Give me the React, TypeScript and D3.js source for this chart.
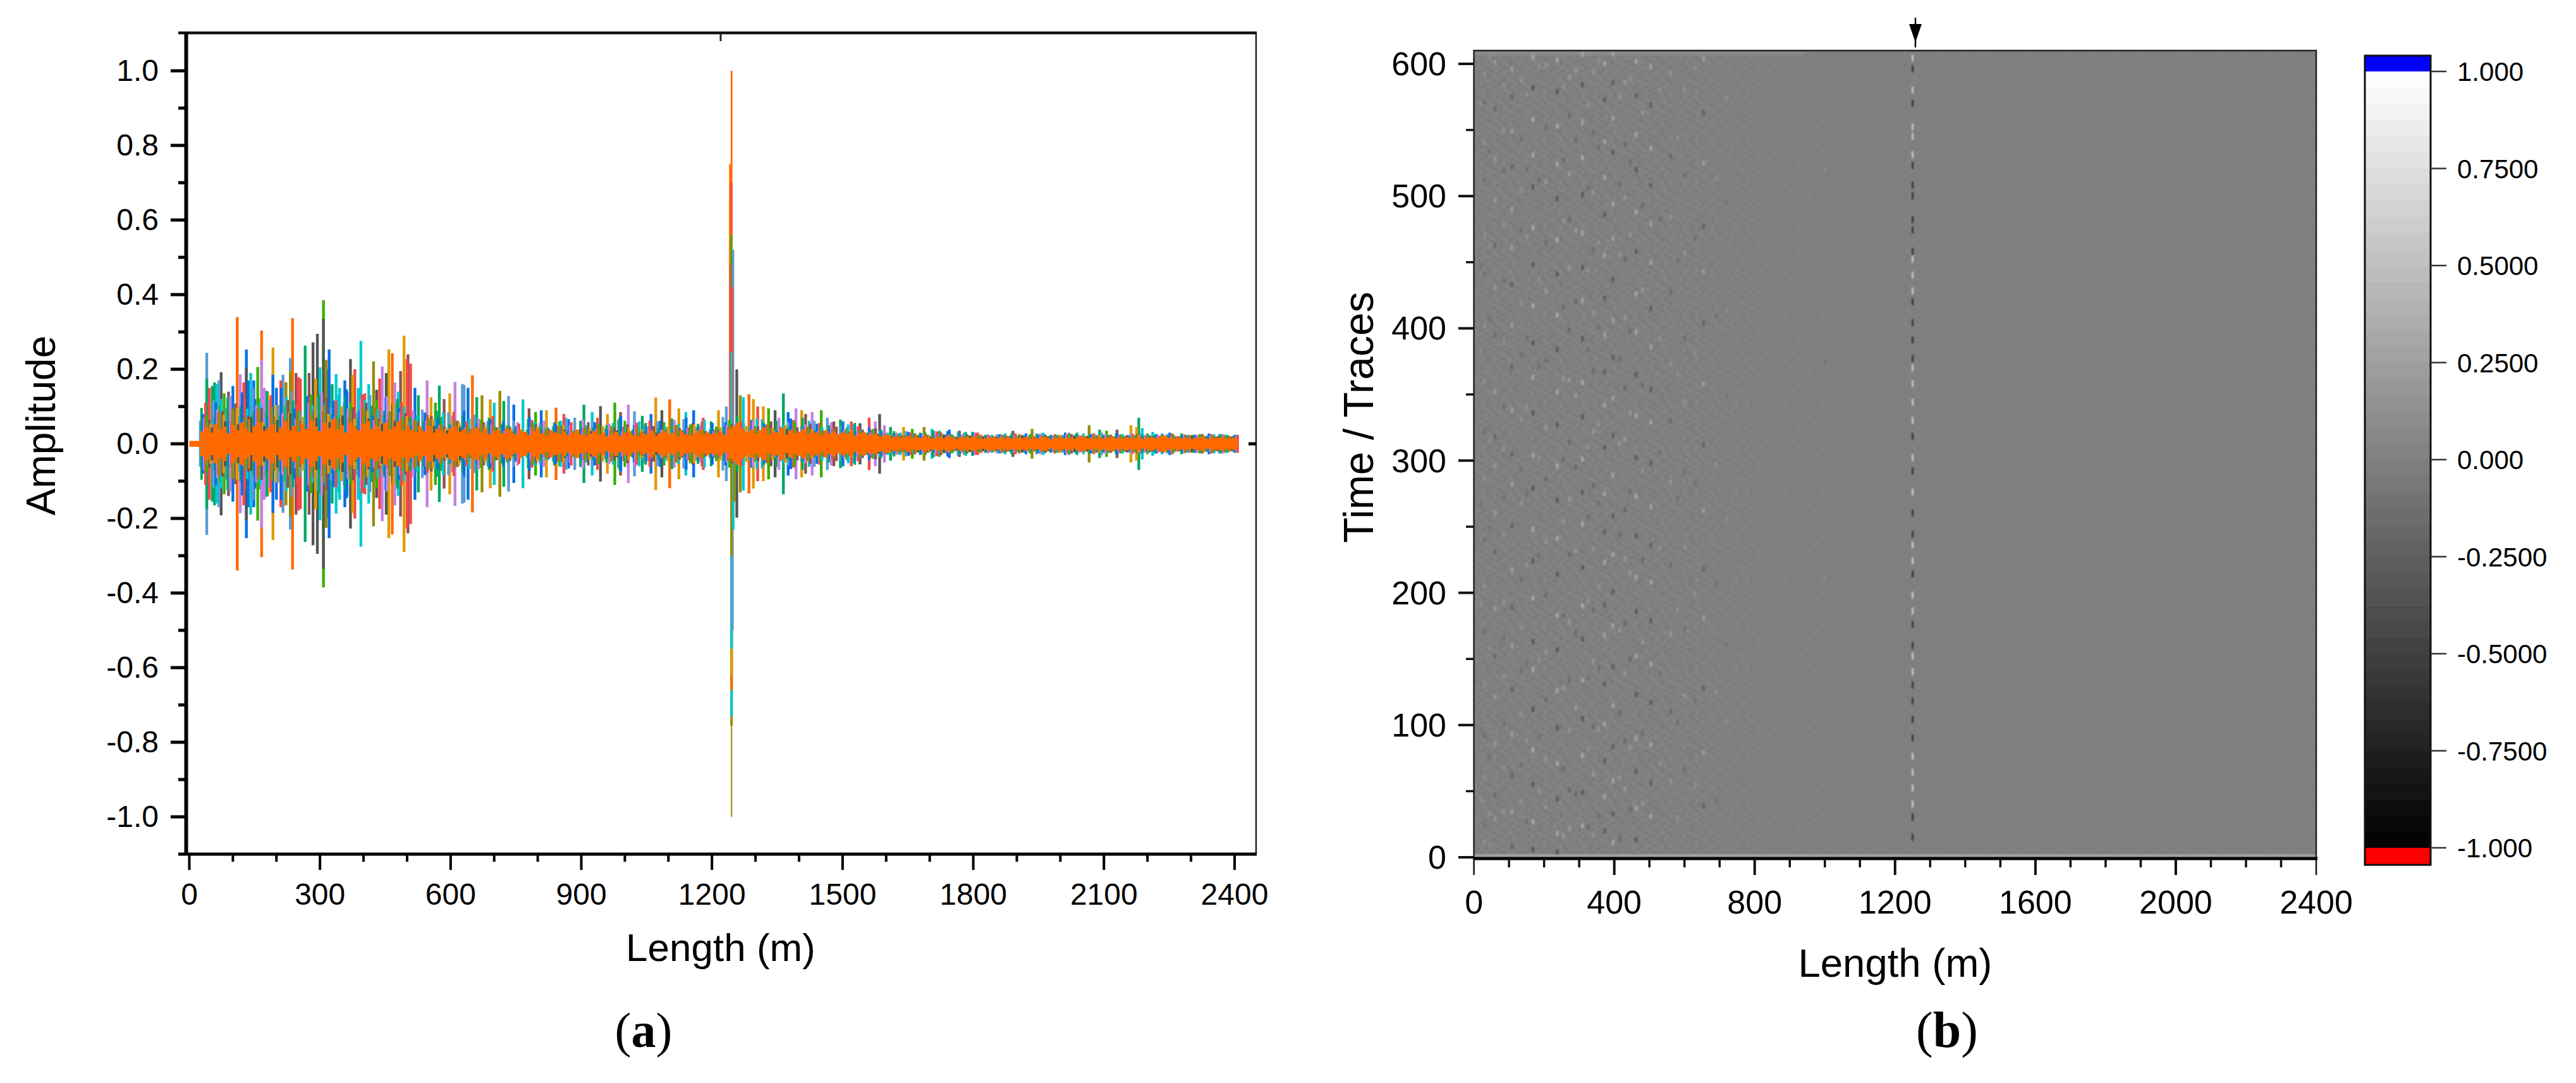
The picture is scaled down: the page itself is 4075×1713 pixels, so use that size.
import React from "react";
import * as d3 from "d3";

// ---------- panel (a) data: amplitudes in thousandths ----------
const traceStart = 25;
const traceStep = 30;
const seriesColors = ["#5b9bd5", "#00a860", "#0070e6", "#c480e4", "#f44848", "#38b000", "#00c8d0", "#8c5050", "#e09a00", "#555555", "#968c00"];
const seriesOffsets = [0, 3, 6, 9, 12, 15, 18, 21, 24, 27, 14];

const skyAmps = [62,118,96,74,132,88,104,142,70,126,98,112,84,130,76,108,58,92,66,84,50,78,60,44,62,38,56,48,70,36,58,42,64,34,52,60,40,66,46,38,72,54,44,66,38,58,48,62,34,46,52,30,36,28,34,24,30,26,32,22,20,26,22,24,28,20,24,26,22,30,20,24,28,22,26,20,24,22,26,20];
const greenAmps = [96,70,124,100,86,142,74,116,92,134,80,124,70,102,88,120,72,60,88,54,76,48,70,52,40,66,46,58,34,62,44,50,70,38,56,42,68,36,54,60,46,74,40,58,62,44,70,36,50,42,56,28,38,34,24,30,36,22,28,32,24,20,28,22,26,24,20,30,26,22,28,20,24,26,22,28,24,20,26,22];
const blueAmps = [80,110,64,138,120,72,150,94,128,68,116,146,90,76,124,96,50,84,70,46,88,56,66,60,48,72,36,54,66,44,58,38,74,50,46,62,34,70,44,56,58,42,64,52,36,68,46,54,40,60,34,44,32,26,32,28,22,34,24,30,22,26,20,28,24,22,30,20,26,24,28,22,20,26,30,22,24,28,20,24];
const purpleAmps = [70,92,128,60,104,118,82,66,110,138,72,94,120,64,128,84,90,62,50,76,44,68,52,36,58,44,62,30,50,66,40,54,34,60,46,38,64,42,50,34,50,36,62,44,70,38,52,34,58,40,46,30,34,30,22,28,34,24,26,30,26,22,24,20,28,22,26,24,20,26,22,28,24,22,20,26,24,22,26,22];
const redAmps = [110,84,62,120,96,130,72,108,124,86,116,70,132,98,66,112,64,78,54,86,60,42,74,40,54,64,34,48,58,42,70,36,46,56,62,32,50,44,60,38,44,60,34,52,46,64,32,56,42,36,48,38,28,24,30,22,32,26,20,28,22,24,28,20,22,26,24,20,28,22,24,26,20,22,28,24,20,26,22,24];
const limeAmps = [76,104,90,68,122,84,100,70,132,96,78,110,64,118,86,72,66,48,72,58,40,64,46,50,36,56,42,60,32,48,54,38,62,44,34,58,40,52,30,46,64,38,48,56,34,60,42,50,30,44,36,40,26,28,24,30,20,26,30,22,20,24,22,26,20,24,28,22,20,24,26,22,28,20,24,22,26,20,24,22];
const cyanAmps = [58,120,74,94,110,66,126,88,104,112,130,84,118,92,74,100,76,56,84,44,68,52,38,48,34,58,44,62,36,50,30,56,42,60,38,46,54,34,64,40,38,56,68,40,50,34,62,44,30,52,38,34,30,30,26,22,28,24,32,20,24,28,22,20,26,24,22,28,24,20,26,22,24,28,20,24,22,26,24,20];
const brownAmps = [64,88,108,76,96,72,118,62,90,122,70,98,110,66,106,82,60,74,46,62,38,58,44,46,32,52,40,48,34,58,36,44,52,30,48,38,42,56,34,40,52,34,46,60,30,44,54,36,46,32,38,42,24,22,28,24,30,20,26,24,20,22,26,20,24,22,26,20,22,24,20,26,22,24,20,22,26,20,22,24];
const goldAmps = [54,78,96,66,58,104,84,72,92,80,100,68,88,60,112,74,48,66,42,58,36,50,40,40,30,46,36,50,28,42,48,32,44,38,30,46,36,52,28,44,36,48,30,42,50,28,40,34,26,36,32,28,24,20,24,22,26,20,22,24,22,20,24,22,20,24,20,22,24,20,22,24,20,22,20,24,22,20,22,24];
const greyAmps = [44,60,52,72,48,64,82,50,70,58,76,46,68,54,62,50,42,48,36,44,30,40,34,32,26,36,30,38,24,34,28,36,26,32,30,24,36,28,30,26,40,28,36,30,40,26,34,28,24,32,28,26,20,20,22,18,24,18,22,20,18,20,22,18,20,18,22,20,18,20,22,18,20,18,20,22,18,20,18,20];
const oliveAmps = [56,82,94,70,88,100,66,90,76,104,62,86,96,72,80,68,60,70,52,64,46,56,44,44,36,50,40,46,30,42,38,48,32,44,36,40,50,30,38,34,46,34,44,52,30,40,46,32,36,28,34,30,22,20,22,24,18,22,20,22,18,22,20,18,22,20,18,20,22,18,20,22,18,20,22,18,20,22,18,20];
const bodySeries = [skyAmps, greenAmps, blueAmps, purpleAmps, redAmps, limeAmps, cyanAmps, brownAmps, goldAmps, greyAmps, oliveAmps];

// isolated peaks: position (m), amplitude (thousandths), colour index (11 = orange)
const peakLengths = [40,40,53,63,73,100,110,117,131,131,141,157,166,166,192,192,210,232,232,237,250,266,284,294,308,308,320,321,337,357,370,380,394,423,443,458,466,493,500,502,546,574,610,627,631,650,691,713,733,766,808,842,906,944,977,1008,1022,1071,1103,1124,1158,1233,1257,1285,1318,1364,1393,1406,1451,1480,1561,1585,1596,1687,1722,1768,1891,1935,2066,2106,2162,2180,2212,
  46,58,68,80,90,125,135,146,148,172,180,200,215,222,245,255,275,290,300,314,328,345,362,375,388,403,412,430,437,452,472,480,485,508,518,526,555,565,585,598,640,660,672,700,722,745,780,795,820,860,885,925,960,990,1040,1060,1085,1140,1180,1215,1265,1272,1295,1305,1330,1345,1375,1415,1430,1465,1495,1520,1540,1575,1610,1640,1660,1705,1745,1810,1960,2020,2090,2130,2175,2188];
const peakAmps = [244,175,155,160,192,155,340,186,253,205,190,206,304,225,258,185,170,195,230,337,179,263,272,295,385,335,200,253,187,170,227,200,276,221,207,253,243,290,227,240,170,156,166,160,158,184,119,142,128,119,90,97,105,101,110,105,87,124,119,95,90,100,198,133,100,135,95,90,90,60,70,80,50,45,35,35,35,40,50,35,50,70,32,
  150,165,170,135,140,165,170,150,170,150,140,150,185,165,190,175,190,175,205,225,160,150,140,185,150,135,160,145,175,190,165,140,195,215,150,130,125,110,120,135,150,125,130,110,115,105,95,85,90,80,70,85,80,85,75,80,90,85,70,90,130,125,120,100,95,90,85,80,85,70,65,60,55,60,45,45,40,40,38,30,30,30,38,38,45,42];
const peakSeries = [0,1,1,6,9,2,11,3,2,9,6,5,11,3,8,2,4,10,0,11,4,1,9,9,5,9,2,2,6,2,9,4,6,10,3,8,11,8,4,7,3,1,3,0,0,11,8,10,0,6,2,11,1,9,5,3,0,8,11,8,2,0,9,11,8,1,3,8,5,7,4,9,3,10,5,9,7,10,10,5,8,1,6,
  4,1,0,5,7,4,2,0,2,3,8,2,0,10,7,4,7,8,6,10,1,6,2,8,6,4,6,9,4,9,3,6,7,4,2,1,8,5,7,8,2,1,10,6,1,2,7,5,8,4,0,6,8,7,1,2,9,6,4,8,10,6,8,4,5,9,2,7,3,0,1,4,9,3,1,8,5,6,2,4,6,3,1,7,8,6];

// the main spike: separate tiers above and below zero
const spikeLength = 1245;
const spikeUpAmps = [1000,750,700,650,560,520,480,420,245,200];
const spikeUpOffsets = [0,-3.5,0,-3,0,4,-3,2,0,12];
const spikeUpColors = ["#ff6a00","#ff6a00","#f44848","#ff6a00","#38b000","#5b9bd5","#f44848","#f44848","#00c8d0","#555555"];
const spikeDownAmps = [1000,756,730,660,620,550,500,300,230,155];
const spikeDownOffsets = [0,0,0,0,0,0,2,0,4,6];
const spikeDownColors = ["#968c00","#968c00","#00c8d0","#ff6a00","#e09a00","#00c8d0","#5b9bd5","#968c00","#00c8d0","#968c00"];

// solid orange core, one half-width every 10 m
const coreStep = 10;
const coreAmps = [8,8,8,34,44,30,52,38,46,28,50,36,56,40,30,48,58,34,42,52,30,44,60,36,48,32,54,40,62,46,34,56,42,66,38,50,30,58,44,36,52,62,40,48,34,56,38,46,60,36,50,38,30,44,34,48,30,40,36,28,42,46,32,38,28,36,44,30,40,26,34,36,28,40,30,26,38,32,24,34,40,28,22,36,30,26,34,24,30,38,26,22,28,34,24,30,20,26,32,22,28,34,24,20,30,26,36,22,28,32,24,30,20,34,26,22,28,36,24,30,26,28,32,24,38,48,56,40,30,38,28,36,44,26,34,30,42,24,36,28,32,40,26,34,30,22,36,28,32,24,30,26,34,22,28,30,24,26,22,20,24,17,20,15,18,21,15,18,16,20,15,16,18,15,20,16,13,18,15,16,20,15,13,16,18,15,16,13,18,15,16,15,18,13,16,15,18,16,13,15,18,15,16,13,18,20,15,16,13,18,15,16,20,15,13,18,16,15,20,13,16,18,15,21,20,16,13,18,15,16,13,15,18,16,13,15,16,18,13,15,16,15];
const traceEnd = 2407;

const xTicksA = [0, 300, 600, 900, 1200, 1500, 1800, 2100, 2400];
const xMinorA = [100,200,400,500,700,800,1000,1100,1300,1400,1600,1700,1900,2000,2200,2300];
const yTicksA = [1, 0.8, 0.6, 0.4, 0.2, 0, -0.2, -0.4, -0.6, -0.8, -1];
const yMinorA = [0.9,0.7,0.5,0.3,0.1,-0.1,-0.3,-0.5,-0.7,-0.9];

// ---------- panel (b) data ----------
const xTicksB = [0, 400, 800, 1200, 1600, 2000, 2400];
const xMinorB = [100,200,300,500,600,700,900,1000,1100,1300,1400,1500,1700,1800,1900,2100,2200,2300];
const yTicksB = [0, 100, 200, 300, 400, 500, 600];
const yMinorB = [50,150,250,350,450,550];
const colorTicks = [1, 0.75, 0.5, 0.25, 0, -0.25, -0.5, -0.75, -1];
const colorTickLabels = ["1.000","0.7500","0.5000","0.2500","0.000","-0.2500","-0.5000","-0.7500","-1.000"];

// streak columns of the image: length (m), strength, and traces of the visible specks (negative trace = dark speck)
const spikeColumnIndex = 21;
const speckColumns = [30,60,85,108,135,168,205,237,272,309,340,372,396,430,462,504,560,600,654,720,1000,1251, 20,45,150,185,255,290,325,355,415,445,480,530,580,630,690];
const speckStrength = [.12,.18,.14,.22,.14,.3,.16,.3,.18,.3,.16,.26,.26,.18,.28,.26,.16,.14,.22,.1,.08,.55, .1,.11,.14,.13,.16,.18,.14,.14,.16,.16,.16,.13,.11,.11,.1];
const speck0 = [592,-571,540,-512,470,-441,402,360,-322,287,-240,205,-171,130,-92,61,-24,12];
const speck1 = [601,-566,528,497,-463,431,-395,352,-318,296,260,-231,188,-152,121,86,-47,29];
const speck2 = [584,550,-519,478,-436,389,-341,309,-272,244,193,-166,137,-101,68,35];
const speck3 = [596,-575,549,-522,490,461,-433,402,-371,338,-305,282,-251,217,-189,160,-127,93,-62,34,-8];
const speck4 = [588,-543,505,-474,419,-380,331,-293,268,-210,174,-141,108,-70,42];
const speck5 = [605,-582,558,531,-507,476,-448,417,-389,363,-336,304,-279,248,-224,196,-163,142,-112,81,-55,27,-6];
const speck6 = [599,-552,511,-465,428,-376,325,-286,239,-198,155,-119,74,38];
const speck7 = [603,-579,553,524,-498,467,-441,410,-384,352,-327,296,-270,241,-214,183,-157,126,-98,71,-44,18,-4];
const speck8 = [590,-561,517,-482,446,-399,361,-314,271,-229,178,-134,96,-51,22];
const speck9 = [607,-584,556,529,-501,472,-446,421,-392,359,-333,301,-276,252,-219,190,-165,134,-105,77,-49,24];
const speck10 = [594,-548,503,-459,412,-368,322,-281,233,-187,148,-99,63,17];
const speck11 = [600,-573,541,514,-486,455,-423,395,-367,342,-310,275,-246,223,-191,168,-131,101,-73,46,-20];
const speck12 = [608,-586,559,-533,494,468,-437,406,-378,347,-319,289,-258,229,-201,175,-144,115,-84,58,-33,11];
const speck13 = [586,-539,499,-452,408,-355,316,-263,226,-177,139,-88,52];
const speck14 = [602,-576,547,-520,488,-458,426,397,-365,334,-302,273,-243,212,-186,152,-123,90,-65,37,-13];
const speck15 = [598,-569,536,-508,479,450,-415,386,-354,329,-298,265,-236,208,-179,146,-117,85,-56,31];
const speck16 = [593,-530,484,-427,373,-330,284,-221,169,-110,57];
const speck17 = [581,-516,457,-392,344,-291,235,-173,122,-66];
const speck18 = [604,-563,525,-477,443,-404,358,-312,262,-218,181,-128,79,-39];
const speck19 = [574,-495,413,-349,255,-161,103];
const speck20 = [520,-375,211];
const speck21 = [604,-596,580,-570,552,545,531,-523,-508,-500,-482,-474,-458,452,440,428,-420,-404,-391,-377,370,358,344,330,-318,302,-292,276,-260,-244,236,224,-214,198,186,-176,-160,152,140,-130,-118,-104,-90,76,64,52,40,-30,-15];
const speck22 = [570,-447,383,-267,192,-96,44];
const speck23 = [606,-534,462,-407,315,-249,158,-76,33,9];
const speck24 = [577,-520,469,-393,340,-275,221,-147,88,-27];
const speck25 = [598,-512,437,-371,302,-228,149,-91,50];
const speck26 = [583,-527,481,-416,362,-301,254,-183,128,-67,16];
const speck27 = [595,-542,474,-420,349,-295,232,-170,113,-48];
const speck28 = [569,-506,444,-384,310,-257,194,-136,82,-23];
const speck29 = [602,-537,465,-401,328,-268,205,-143,97,-31];
const speck30 = [575,-509,456,-377,313,-244,172,-109,60,-14];
const speck31 = [589,-526,471,-398,336,-277,215,-150,83,-36];
const speck32 = [563,-493,429,-357,292,-225,163,-94,41];
const speck33 = [580,-483,392,-306,234,-139,71];
const speck34 = [544,-451,366,-271,187,-102,30];
const speck35 = [597,-468,381,-283,199,-118,54];
const speck36 = [513,-409,297,-206,125,-43];
const speckTraces = [speck0,speck1,speck2,speck3,speck4,speck5,speck6,speck7,speck8,speck9,speck10,speck11,speck12,speck13,speck14,speck15,speck16,speck17,speck18,speck19,speck20,speck21,speck22,speck23,speck24,speck25,speck26,speck27,speck28,speck29,speck30,speck31,speck32,speck33,speck34,speck35,speck36];

// fine background grain of the image: one hand-set tile of grey deviations, in hundredths
const grainTile = [
  [4,-6,9,-2,-8,5,1,-11,7,3,-5,10,-3,-9,6,2],
  [-7,3,-1,11,2,-9,6,4,-3,-10,8,-2,5,1,-6,9],
  [2,10,-8,-4,7,0,-12,5,9,-1,-7,3,11,-5,-2,4],
  [-9,-2,5,8,-6,11,3,-7,-1,6,2,-11,-4,8,10,-3],
  [6,1,-10,3,9,-5,-2,8,-9,4,12,-6,1,-8,3,7],
  [-3,8,4,-11,-1,6,10,-4,2,-7,-3,9,5,-2,-10,1],
  [11,-5,-7,6,3,-9,-1,7,-12,5,8,-4,-6,10,2,-8],
  [-1,4,9,-3,-10,2,8,-6,3,11,-8,1,7,-5,-4,6],
  [5,-10,2,7,-4,-8,4,10,-2,-6,3,6,-11,0,9,-7],
  [-6,7,-3,1,10,5,-7,-1,6,-9,-2,11,4,-8,-1,3],
  [3,-8,11,-5,-2,7,9,-3,-10,1,5,-6,2,6,-9,8],
  [8,2,-4,-9,6,-1,-11,4,7,3,-8,-2,10,-3,5,-6],
  [-11,6,1,4,-7,3,5,-8,-2,9,6,-10,-1,7,-5,2],
  [1,-3,7,10,-5,-6,12,2,-4,-8,4,8,-9,3,6,-2]
];
const grainRegionStarts = [0, 650, 800, 1000, 1250];
const grainRegionEnds = [650, 800, 1000, 1250, 2400];
const grainRegionStrength = [0.42, 0.3, 0.2, 0.14, 0.12];

const bandCount = 48;
const sans = "'Liberation Sans', Arial, sans-serif";
const serif = "'Liberation Serif', 'Times New Roman', serif";
const W = 4075, H = 1713;

const xA = d3.scaleLinear().domain([0, 2400]).range([299.5, 1953]);
const yA = d3.scaleLinear().domain([-1, 1]).range([1292, 112]);
const xB = d3.scaleLinear().domain([0, 2400]).range([2331.6, 3664]);
const yB = d3.scaleLinear().domain([0, 600]).range([1356, 101]);
const yC = d3.scaleLinear().domain([-1, 1]).range([1341, 113]);
const grey = d3.scaleLinear<string>().domain([-1, 1]).range(["#000000", "#ffffff"]);

const amp = (a: number) => a / 1000;

function barPath(len: number, a: number) {
  return `M${xA(len)},${yA(amp(a))}V${yA(-amp(a))}`;
}

const coreArea = d3.area<number>()
  .x((_, i) => xA(Math.min(i * coreStep, traceEnd)))
  .y0((a) => yA(amp(a)))
  .y1((a) => yA(-amp(a)))
  .curve(d3.curveStep);

function PanelA() {
  const peakOrder = d3.range(peakLengths.length).sort((p, q) => peakAmps[q] - peakAmps[p]);
  return (
    <g>
      {peakOrder.map((k) => (
        <path key={k} d={barPath(peakLengths[k], peakAmps[k])} strokeWidth={4.4}
          stroke={peakSeries[k] === 11 ? "#ff6a00" : seriesColors[peakSeries[k]]} fill="none" />
      ))}
      {spikeUpAmps.map((a, i) => (
        <path key={i} d={`M${xA(spikeLength + spikeUpOffsets[i])},${yA(amp(a))}V${yA(0)}`} stroke={spikeUpColors[i]} strokeWidth={i === 0 ? 2.8 : 3} fill="none" />
      ))}
      {spikeDownAmps.map((a, i) => (
        <path key={i} d={`M${xA(spikeLength + spikeDownOffsets[i])},${yA(-amp(a))}V${yA(0)}`} stroke={spikeDownColors[i]} strokeWidth={i === 0 ? 2 : 4} fill="none" />
      ))}
      {bodySeries.map((vals, s) => (
        <path key={s} stroke={seriesColors[s]} strokeWidth={4} fill="none"
          d={vals.map((a, i) => {
            const len = traceStart + i * traceStep + seriesOffsets[s];
            return len > traceEnd ? "" : barPath(len, a);
          }).join("")} />
      ))}
      <path d={coreArea(coreAmps) || ""} fill="#ff6a00" />

      {/* frame */}
      <line x1={1987} x2={1987} y1={52} y2={1351} stroke="#222" strokeWidth={2.5} />
      <line x1={282} x2={1988} y1={52} y2={52} stroke="#111" strokeWidth={4.5} />
      <line x1={282} x2={1988} y1={1351} y2={1351} stroke="#000" strokeWidth={5} />
      <line x1={294.5} x2={294.5} y1={50} y2={1353} stroke="#000" strokeWidth={6} />
      <line x1={1140} x2={1140} y1={52} y2={65} stroke="#222" strokeWidth={3} />
      <line x1={1975} x2={1987} y1={yA(0)} y2={yA(0)} stroke="#000" strokeWidth={5} />

      {xTicksA.map((t) => (
        <g key={t}>
          <line x1={xA(t)} x2={xA(t)} y1={1351} y2={1376} stroke="#000" strokeWidth={4} />
          <text x={xA(t)} y={1431} textAnchor="middle" fontFamily={sans} fontSize={48}>{t}</text>
        </g>
      ))}
      {xMinorA.map((t) => <line key={t} x1={xA(t)} x2={xA(t)} y1={1351} y2={1363} stroke="#000" strokeWidth={4} />)}
      {yTicksA.map((t) => (
        <g key={t}>
          <line x1={270} x2={294} y1={yA(t)} y2={yA(t)} stroke="#000" strokeWidth={5} />
          <text x={251} y={yA(t) + 16} textAnchor="end" fontFamily={sans} fontSize={48}>{t.toFixed(1)}</text>
        </g>
      ))}
      {yMinorA.map((t) => <line key={t} x1={282} x2={294} y1={yA(t)} y2={yA(t)} stroke="#000" strokeWidth={5} />)}
      <text x={1140} y={1520} textAnchor="middle" fontFamily={sans} fontSize={62}>Length (m)</text>
      <text transform="translate(87,673) rotate(-90)" textAnchor="middle" fontFamily={sans} fontSize={64}>Amplitude</text>
      <text x={1018} y={1656} textAnchor="middle" fontFamily={serif} fontSize={78}>(<tspan fontWeight="bold">a</tspan>)</text>
    </g>
  );
}

function PanelB() {
  const bands = d3.range(bandCount);
  const bandH = (yC(-1) - yC(1)) / bandCount;
  const cellW = 5, cellH = 5;
  const tileW = grainTile[0].length * cellW, tileH = grainTile.length * cellH;
  return (
    <g>
      <defs>
        <pattern id="grain" patternUnits="userSpaceOnUse" width={tileW} height={tileH} x={2331.6} y={80}>
          {grainTile.map((row, r) => row.map((v, c) => (
            <rect key={`${r}-${c}`} x={c * cellW} y={r * cellH} width={cellW} height={cellH} fill={grey(v / 100)} />
          )))}
        </pattern>
        <filter id="soft" x="-2%" y="-2%" width="104%" height="104%"><feGaussianBlur stdDeviation="1" /></filter>
      </defs>
      <rect x={2331.6} y={80} width={1332.4} height={1278} fill="#808080" />
      {grainRegionStarts.map((s, i) => (
        <rect key={s} x={xB(s)} y={80} width={xB(grainRegionEnds[i]) - xB(s)} height={1278} fill="url(#grain)" opacity={grainRegionStrength[i]} filter="url(#soft)" />
      ))}
      <rect x={2331.6} y={1351} width={1332.4} height={5} fill="#a0a0a0" />
      <rect x={2331.6} y={82} width={520} height={6} fill="#8a8a8a" />
      <g filter="url(#soft)">
        {speckColumns.map((len, c) =>
          speckTraces[c].map((t, j) => (
            <rect key={`${c}-${j}`} x={xB(len) - 2} width={c === spikeColumnIndex ? 3 : 4.4}
              y={yB(Math.abs(t)) - (c === spikeColumnIndex ? 6 : 4)} height={c === spikeColumnIndex ? 11 : 8}
              fill={grey(Math.sign(t) * speckStrength[c])} />
          ))
        )}
      </g>
      {/* frame */}
      <rect x={2331.6} y={80} width={1332.4} height={1278} fill="none" stroke="#222" strokeWidth={2.5} />
      <line x1={2331} x2={3666} y1={1358} y2={1358} stroke="#000" strokeWidth={5} />
      {xTicksB.map((t) => (
        <g key={t}>
          <line x1={xB(t)} x2={xB(t)} y1={1358} y2={1384} stroke="#111" strokeWidth={t === 0 || t === 2400 ? 2.5 : 4} />
          <text x={xB(t)} y={1445} textAnchor="middle" fontFamily={sans} fontSize={52}>{t}</text>
        </g>
      ))}
      {xMinorB.map((t) => <line key={t} x1={xB(t)} x2={xB(t)} y1={1358} y2={1372} stroke="#111" strokeWidth={3.5} />)}
      {yTicksB.map((t) => (
        <g key={t}>
          <line x1={2307} x2={2331} y1={yB(t)} y2={yB(t)} stroke="#111" strokeWidth={4} />
          <text x={2288} y={yB(t) + 18} textAnchor="end" fontFamily={sans} fontSize={52}>{t}</text>
        </g>
      ))}
      {yMinorB.map((t) => <line key={t} x1={2319} x2={2331} y1={yB(t)} y2={yB(t)} stroke="#111" strokeWidth={3.5} />)}
      <text x={2998} y={1545} textAnchor="middle" fontFamily={sans} fontSize={63.5}>Length (m)</text>
      <text transform="translate(2172,660) rotate(-90)" textAnchor="middle" fontFamily={sans} fontSize={66}>Time / Traces</text>
      <text x={3080} y={1656} textAnchor="middle" fontFamily={serif} fontSize={80}>(<tspan fontWeight="bold">b</tspan>)</text>

      {/* arrow */}
      <line x1={3030} x2={3030} y1={28} y2={75} stroke="#000" strokeWidth={2.5} />
      <path d="M3020,38H3040L3031,64H3029Z" fill="#000" />

      {/* colour bar */}
      {bands.map((b) => (
        <rect key={b} x={3741} width={104} y={yC(1) + b * bandH} height={bandH + 0.5}
          fill={grey(1 - (b + 0.5) * 2 / bandCount)} />
      ))}
      <rect x={3741} y={88} width={104} height={25} fill="#0000ff" />
      <rect x={3741} y={1341} width={104} height={27} fill="#ff0000" />
      <rect x={3741} y={88} width={104} height={1280} fill="none" stroke="#111" strokeWidth={3} />
      {colorTicks.map((t, i) => (
        <g key={t}>
          <line x1={3845} x2={3870} y1={yC(t)} y2={yC(t)} stroke="#333" strokeWidth={2.5} />
          <text x={3887} y={yC(t) + 15} fontFamily={sans} fontSize={42}>{colorTickLabels[i]}</text>
        </g>
      ))}
    </g>
  );
}

export default function App() {
  return (
    <svg width={W} height={H} viewBox={`0 0 ${W} ${H}`} style={{ position: "absolute", left: 0, top: 0, display: "block", background: "#fff" }}>
      <PanelA />
      <PanelB />
    </svg>
  );
}
